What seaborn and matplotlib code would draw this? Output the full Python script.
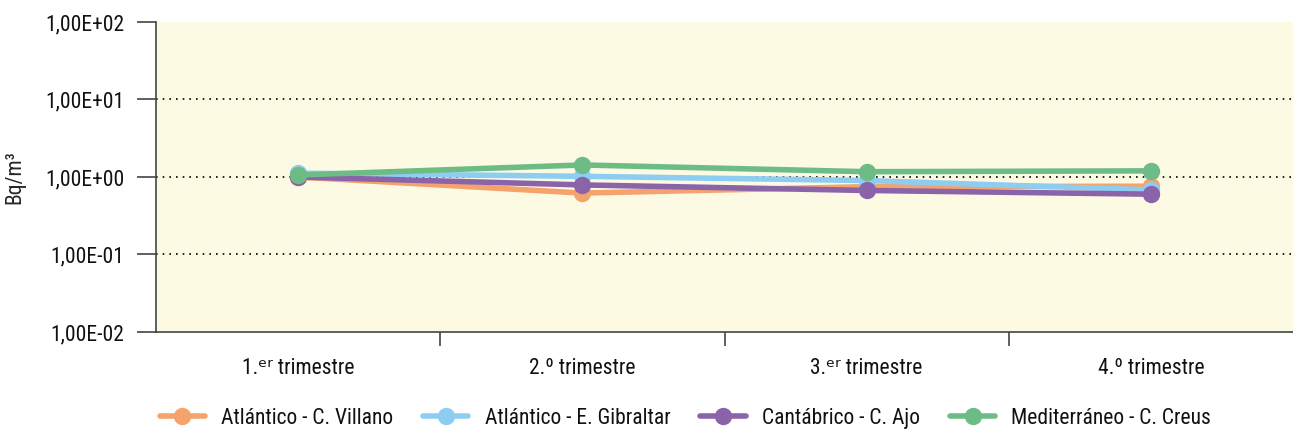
import matplotlib
matplotlib.use('agg')
import matplotlib.pyplot as plt
import matplotlib.ticker as mticker
import numpy as np
import pandas as pd
import seaborn as sns

trimestres = ['1.ᵉʳ trimestre', '2.º trimestre', '3.ᵉʳ trimestre', '4.º trimestre']
estaciones = ['Atlántico - C. Villano', 'Atlántico - E. Gibraltar',
              'Cantábrico - C. Ajo', 'Mediterráneo - C. Creus']
villano = [1.00, 0.62, 0.75, 0.76]
gibraltar = [1.12, 1.02, 0.90, 0.68]
ajo = [1.00, 0.79, 0.67, 0.60]
creus = [1.06, 1.43, 1.17, 1.20]
colores = ['#F5A36C', '#8ECDF2', '#8A63A9', '#6EBC85']

sns.set_theme(style='white')
plt.rcParams['font.family'] = ['Roboto Condensed', 'DejaVu Sans']
plt.rcParams['text.color'] = '#111111'
plt.rcParams['xtick.color'] = '#111111'
plt.rcParams['ytick.color'] = '#111111'

df = pd.DataFrame({
    'trimestre': trimestres * 4,
    'estacion': np.repeat(estaciones, 4),
    'valor': villano + gibraltar + ajo + creus,
})

fig = plt.figure(figsize=(12.93, 4.33), dpi=100)
ax = fig.add_axes([0.1207, 0.2333, 0.8793, 0.7159])
ax.set_facecolor('#FDFAE4')

sns.lineplot(data=df, x='trimestre', y='valor', hue='estacion', palette=colores,
             marker='o', markersize=12.5, markeredgewidth=0, linewidth=4,
             sort=False, ax=ax)

ax.set_yscale('log')
ax.set_ylim(1e-2, 1e2)
ax.set_xlim(-0.5, 3.5)
ax.yaxis.set_major_locator(mticker.FixedLocator([1e-2, 1e-1, 1e0, 1e1, 1e2]))
ax.yaxis.set_minor_locator(mticker.NullLocator())
ax.set_yticklabels(['1,00E-02', '1,00E-01', '1,00E+00', '1,00E+01', '1,00E+02'], fontsize=15.5)
for v in [1e-1, 1e0, 1e1]:
    ax.axhline(v, color='black', linestyle=(0, (1, 3)), linewidth=1.2, zorder=0.5)

ax.set_xticks([0, 1, 2, 3])
ax.set_xticklabels(trimestres, fontsize=15.5)
ax.xaxis.set_minor_locator(mticker.FixedLocator([0.5, 1.5, 2.5]))
ax.tick_params(axis='x', which='major', length=0, pad=19)
ax.tick_params(axis='x', which='minor', length=10, width=1.2, color='#444444', direction='out', bottom=True)
ax.tick_params(axis='y', length=14, width=1.2, color='#444444', direction='out', left=True, pad=9)

ax.set_xlabel('')
ax.set_ylabel('Bq/m³', fontsize=15.5, labelpad=14)

for s in ['top', 'right']:
    ax.spines[s].set_visible(False)
for s in ['left', 'bottom']:
    ax.spines[s].set_color('#444444')
    ax.spines[s].set_linewidth(1.2)

handles, labels = ax.get_legend_handles_labels()
ax.get_legend().remove()
fig.legend(handles, labels, loc='center', bbox_to_anchor=(0.53, 0.034), ncol=4, frameon=False,
           fontsize=15.5, handlelength=2.1, columnspacing=1.4, handletextpad=0.75)

fig.savefig('out.png', dpi=100)
